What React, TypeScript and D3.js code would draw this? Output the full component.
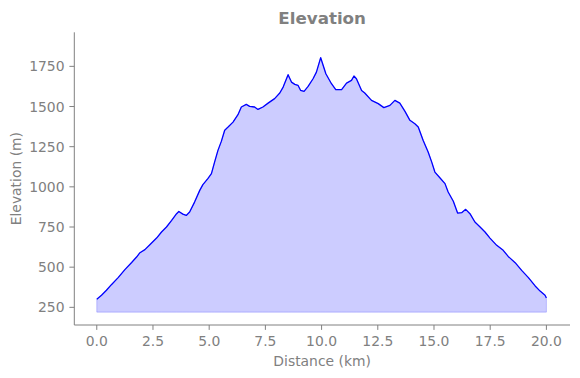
import React from "react";
import * as d3 from "d3";

const distanceKm = [
  0, 0.21, 0.43, 0.65, 0.95, 1.25, 1.55, 1.77, 1.92, 2.14, 2.36, 2.66, 2.88, 3.1, 3.33, 3.55, 3.65, 3.83, 3.98,
  4.13, 4.35, 4.58, 4.72, 4.94, 5.1, 5.24, 5.39, 5.54, 5.69, 5.84, 6.06, 6.28, 6.43, 6.65, 6.8, 7.02, 7.17, 7.39,
  7.62, 7.91, 8.14, 8.29, 8.51, 8.66, 8.81, 8.95, 9.07, 9.22, 9.4, 9.62, 9.77, 9.96, 10.19, 10.44, 10.63, 10.89,
  11.11, 11.33, 11.44, 11.55, 11.78, 11.92, 12.22, 12.52, 12.77, 13.04, 13.26, 13.48, 13.71, 13.93, 14.15, 14.3,
  14.52, 14.74, 14.9, 15.04, 15.27, 15.49, 15.63, 15.86, 16.05, 16.23, 16.41, 16.6, 16.82, 17.05, 17.27, 17.49,
  17.79, 18.08, 18.3, 18.61, 18.9, 19.2, 19.5, 19.72, 19.94, 20.0,
];
const elevationM = [
  300, 325, 356, 391, 435, 485, 529, 563, 590, 609, 640, 681, 719, 750, 791, 833, 847, 830, 822,
  843, 905, 978, 1014, 1051, 1082, 1154, 1227, 1283, 1352, 1372, 1403, 1449, 1497, 1513, 1501, 1497, 1482, 1497,
  1521, 1549, 1584, 1621, 1698, 1652, 1638, 1632, 1600, 1594, 1625, 1673, 1714, 1804, 1704, 1642, 1605, 1605,
  1646, 1663, 1690, 1673, 1600, 1584, 1538, 1518, 1493, 1507, 1538, 1521, 1470, 1414, 1393, 1372,
  1289, 1217, 1154, 1092, 1055, 1020, 968, 910, 837, 839, 860, 833, 781, 750, 719, 681,
  636, 605, 567, 528, 480, 435, 383, 351, 325, 308,
];
const fillBase = 220;
const xTicks = [0, 2.5, 5, 7.5, 10, 12.5, 15, 17.5, 20];
const yTicks = [250, 500, 750, 1000, 1250, 1500, 1750];

const W = 580;
const H = 378;
const L = 74.3;
const R = 570;
const T = 32.3;
const B = 325;
const gray = "#808080";
const font = "DejaVu Sans, sans-serif";

export default function App() {
  const x = d3.scaleLinear().domain([-1.0, 21.05]).range([L, R]);
  const y = d3.scaleLinear().domain([140, 1962]).range([B, T]);
  const pts = distanceKm.map((d, i) => [d, elevationM[i]] as [number, number]);
  const area = d3
    .area<[number, number]>()
    .x((p) => x(p[0]))
    .y0(() => y(fillBase))
    .y1((p) => y(p[1]))(pts) as string;
  const line = d3
    .line<[number, number]>()
    .x((p) => x(p[0]))
    .y((p) => y(p[1]))(pts) as string;

  return (
    <svg
      width={W}
      height={H}
      style={{ position: "absolute", left: 0, top: 0, background: "#fff" }}
      fontFamily={font}
    >
      <path d={area} fill="blue" fillOpacity={0.2} stroke="blue" strokeOpacity={0.2} strokeWidth={1} />
      <path d={line} fill="none" stroke="blue" strokeWidth={1.3} strokeLinejoin="round" />
      <line x1={L} x2={L} y1={T} y2={B} stroke={gray} strokeWidth={1} />
      <line x1={L} x2={R} y1={B} y2={B} stroke={gray} strokeWidth={1} />
      {xTicks.map((t) => (
        <g key={"x" + t}>
          <line x1={x(t)} x2={x(t)} y1={B} y2={B + 4.9} stroke={gray} strokeWidth={1} />
          <text x={x(t)} y={B + 20.5} textAnchor="middle" fontSize={13.9} fill={gray}>
            {t.toFixed(1)}
          </text>
        </g>
      ))}
      {yTicks.map((t) => (
        <g key={"y" + t}>
          <line x1={L - 4.9} x2={L} y1={y(t)} y2={y(t)} stroke={gray} strokeWidth={1} />
          <text x={L - 9.8} y={y(t) + 5} textAnchor="end" fontSize={13.9} fill={gray}>
            {t}
          </text>
        </g>
      ))}
      <text x={(L + R) / 2} y={366} textAnchor="middle" fontSize={13.9} fill={gray}>
        Distance (km)
      </text>
      <text
        transform={`translate(21,${(T + B) / 2}) rotate(-90)`}
        textAnchor="middle"
        fontSize={13.9}
        fill={gray}
      >
        Elevation (m)
      </text>
      <text x={(L + R) / 2} y={24} textAnchor="middle" fontSize={16.7} fontWeight="bold" fill={gray}>
        Elevation
      </text>
    </svg>
  );
}
